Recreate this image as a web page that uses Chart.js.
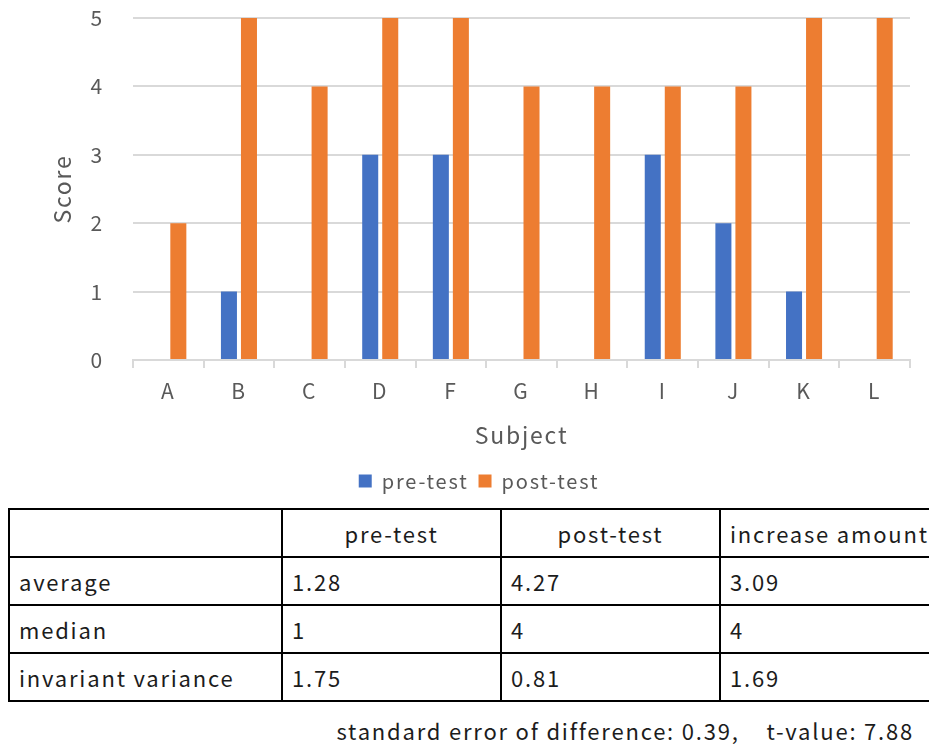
<!DOCTYPE html>
<html>
<head>
<meta charset="utf-8">
<script src="https://cdn.jsdelivr.net/npm/chart.js@4.4.0/dist/chart.umd.min.js"></script>
<style>
  html, body { margin: 0; padding: 0; background: #fff; overflow: hidden; width: 929px; height: 744px; }
  body { position: relative; font-family: "Noto Sans CJK JP", "Noto Sans", sans-serif; letter-spacing: 1.8px; }
  #wrap { position: absolute; left: 0; top: 0; width: 929px; height: 505px; }
  table.stats {
    position: absolute; left: 8px; top: 508px;
    border-collapse: collapse; table-layout: fixed; width: 950px;
    font-size: 22px; color: #1c1c1c;
  }
  table.stats td { border: 2px solid #000; height: 46px; padding: 0 0 0 9px; white-space: nowrap; overflow: hidden; }
  table.stats td.c { text-align: center; padding: 0; }
  #note { position: absolute; right: 15px; top: 715px; font-size: 22px; line-height: 30px; color: #1c1c1c; white-space: pre; }
</style>
</head>
<body>
<div id="wrap"><canvas id="chart" width="929" height="505"></canvas></div>
<table class="stats" id="stats"></table>
<div id="note"></div>
<script>
// Scores per subject
const subjects = ["A", "B", "C", "D", "F", "G", "H", "I", "J", "K", "L"];
const preTest  = [0, 1, 0, 3, 3, 0, 0, 3, 2, 1, 0];
const postTest = [2, 5, 4, 5, 5, 4, 4, 4, 4, 5, 5];
const seriesNames = ["pre-test", "post-test"];

// Summary statistics table
const statColumns = ["", "pre-test", "post-test", "increase amount"];
const statRows    = ["average", "median", "invariant variance"];
const statPre     = ["1.28", "1", "1.75"];
const statPost    = ["4.27", "4", "0.81"];
const statIncrease = ["3.09", "4", "1.69"];
const noteText = "standard error of difference: 0.39,    t-value: 7.88";

const FONT = '"Noto Sans CJK JP", "Noto Sans", sans-serif';
const GREY = "#595959";
const GRID = "#D9D9D9";

// Wider tracking for all canvas text
const tracking = {
  id: "tracking",
  beforeUpdate(chart) { chart.ctx.letterSpacing = "1.8px"; },
  beforeDraw(chart) { chart.ctx.letterSpacing = "1.8px"; }
};

new Chart(document.getElementById("chart"), {
  type: "bar",
  data: {
    labels: subjects,
    datasets: [
      { label: seriesNames[0], data: preTest, backgroundColor: "#4472C4",
        categoryPercentage: 0.567, barPercentage: 0.8 },
      { label: seriesNames[1], data: postTest, backgroundColor: "#ED7D31",
        categoryPercentage: 0.567, barPercentage: 0.8 }
    ]
  },
  plugins: [tracking],
  options: {
    responsive: false,
    animation: false,
    layout: { padding: { top: 18, right: 19, left: 48, bottom: 4 } },
    plugins: {
      legend: {
        position: "bottom",
        labels: { font: { family: FONT, size: 20 }, color: GREY, boxWidth: 13, boxHeight: 13, padding: 10 }
      },
      tooltip: { enabled: false }
    },
    scales: {
      x: {
        grid: { display: true, drawOnChartArea: false, offset: true, color: GRID, lineWidth: 2, tickLength: 8 },
        border: { color: GRID, width: 2 },
        ticks: { font: { family: FONT, size: 21 }, color: GREY, padding: 10 },
        title: { display: true, text: "Subject", font: { family: FONT, size: 23 }, color: GREY, padding: { top: 4, bottom: 12 } },
        afterFit: (s) => { s.height = 101; }
      },
      y: {
        min: 0, max: 5,
        ticks: { stepSize: 1, font: { family: FONT, size: 21 }, color: GREY, padding: 3 },
        grid: { color: GRID, lineWidth: 2, drawTicks: true, tickLength: 26, tickColor: "rgba(0,0,0,0)" },
        border: { display: false },
        title: { display: true, text: "Score", font: { family: FONT, size: 23 }, color: GREY, padding: { top: 0, bottom: 0 } },
        afterFit: (s) => { s.width = 85; }
      }
    }
  }
});

// Build the statistics table
const table = document.getElementById("stats");
const colWidths = [273, 219, 219, 239];
const cg = document.createElement("colgroup");
colWidths.forEach(w => { const c = document.createElement("col"); c.style.width = w + "px"; cg.appendChild(c); });
table.appendChild(cg);
const head = document.createElement("tr");
statColumns.forEach((t, i) => {
  const td = document.createElement("td");
  td.textContent = t;
  if (i === 1 || i === 2) td.className = "c";
  head.appendChild(td);
});
table.appendChild(head);
statRows.forEach((r, i) => {
  const tr = document.createElement("tr");
  [r, statPre[i], statPost[i], statIncrease[i]].forEach(v => {
    const td = document.createElement("td");
    td.textContent = v;
    tr.appendChild(td);
  });
  table.appendChild(tr);
});
document.getElementById("note").textContent = noteText;
</script>
</body>
</html>
